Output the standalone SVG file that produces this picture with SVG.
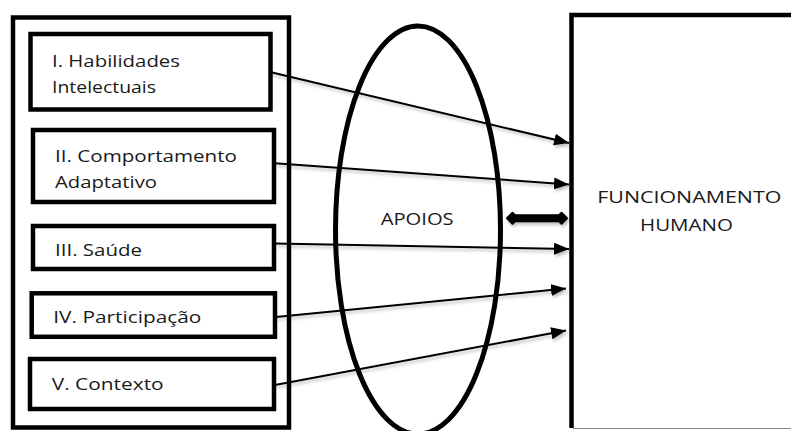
<svg xmlns="http://www.w3.org/2000/svg" width="791" height="431" viewBox="0 0 791 431">
<style>
.box{fill:#fff;stroke:#000;stroke-width:4.5}
.lbl{font-family:"Open Sans","Liberation Sans",sans-serif;font-size:17px;fill:#1a1a1a}
.conn{stroke:#000;stroke-width:2;fill:none;marker-end:url(#ah)}
</style>
<defs>
<marker id="ah" markerUnits="userSpaceOnUse" markerWidth="16" markerHeight="13" refX="15" refY="6" orient="auto">
<path d="M0,0 L15,6 L0,12 z" fill="#000"/>
</marker>
<filter id="sh" x="-10%" y="-10%" width="120%" height="140%">
<feDropShadow dx="1.5" dy="2.5" stdDeviation="1.5" flood-color="#000" flood-opacity="0.25"/>
</filter>
</defs>
<rect width="791" height="431" fill="#fff"/>
<g id="outer-left">
<rect class="box" x="13" y="17.5" width="276" height="410"/>
</g>
<g id="node-habilidades">
<rect class="box" x="30.5" y="34" width="240" height="75.5"/>
<text class="lbl" x="52" y="66.7" textLength="128" lengthAdjust="spacingAndGlyphs">I. Habilidades</text>
<text class="lbl" x="52" y="92.7" textLength="104" lengthAdjust="spacingAndGlyphs">Intelectuais</text>
</g>
<g id="node-comportamento">
<rect class="box" x="33" y="130" width="241" height="72"/>
<text class="lbl" x="55" y="161.7" textLength="182" lengthAdjust="spacingAndGlyphs">II. Comportamento</text>
<text class="lbl" x="55" y="187.7" textLength="102" lengthAdjust="spacingAndGlyphs">Adaptativo</text>
</g>
<g id="node-saude">
<rect class="box" x="33" y="226" width="241" height="43"/>
<text class="lbl" x="55" y="256" textLength="87" lengthAdjust="spacingAndGlyphs">III. Saúde</text>
</g>
<g id="node-participacao">
<rect class="box" x="31.7" y="293.3" width="243.3" height="43.5"/>
<text class="lbl" x="53.3" y="323.3" textLength="148" lengthAdjust="spacingAndGlyphs">IV. Participação</text>
</g>
<g id="node-contexto">
<rect class="box" x="30" y="359" width="244" height="50"/>
<text class="lbl" x="51.7" y="390" textLength="112" lengthAdjust="spacingAndGlyphs">V. Contexto</text>
</g>
<g id="node-apoios">
<ellipse cx="418" cy="230" rx="82.5" ry="204" fill="none" stroke="#000" stroke-width="5"/>
<text class="lbl" x="380.7" y="225" textLength="73" lengthAdjust="spacingAndGlyphs">APOIOS</text>
</g>
<g id="node-funcionamento">
<path d="M571.5,428 V15 H800" fill="none" stroke="#000" stroke-width="4.5"/>
<line x1="573" y1="428.5" x2="791" y2="428.5" stroke="#888" stroke-width="1"/>
<text class="lbl" x="597.3" y="202.7" font-size="15.5" textLength="184" lengthAdjust="spacingAndGlyphs">FUNCIONAMENTO</text>
<text class="lbl" x="640" y="230.7" font-size="15.5" textLength="93" lengthAdjust="spacingAndGlyphs">HUMANO</text>
</g>
<g id="connectors" filter="url(#sh)">
<line class="conn" x1="270" y1="72" x2="569" y2="143"/>
<line class="conn" x1="275" y1="163.3" x2="569" y2="184.5"/>
<line class="conn" x1="275" y1="243.5" x2="569" y2="249"/>
<line class="conn" x1="276" y1="317" x2="566" y2="288.5"/>
<line class="conn" x1="275" y1="385" x2="566" y2="330.5"/>
<path d="M507,218.3 L512.5,212.8 L515,215.3 L559,215.3 L561.5,212.8 L567,218.3 L561.5,223.8 L559,221.3 L515,221.3 L512.5,223.8 Z" fill="#000" stroke="#000" stroke-width="2" stroke-linejoin="round"/>
</g>
</svg>
